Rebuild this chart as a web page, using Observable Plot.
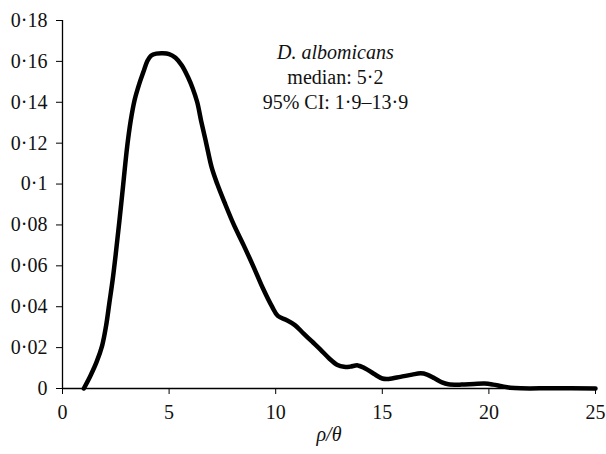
<!DOCTYPE html>
<html>
<head>
<meta charset="utf-8">
<script src="https://cdn.jsdelivr.net/npm/d3@7"></script>
<script src="https://cdn.jsdelivr.net/npm/@observablehq/plot@0.6"></script>
<style>
  html, body { margin: 0; padding: 0; background: #fff; }
  svg { display: block; }
</style>
</head>
<body>
<div id="chart"></div>
<script>
// Posterior density of rho/theta
const rhoTheta = [1.0, 1.3, 1.6, 1.86, 2.05, 2.2, 2.35, 2.5, 2.67, 2.85, 3.03, 3.2, 3.38, 3.6, 3.8, 3.97, 4.15, 4.4, 4.7, 5.0, 5.3, 5.6, 5.9, 6.1, 6.32, 6.5, 6.74, 7.0, 7.26, 7.6, 8.04, 8.5, 8.94, 9.4, 9.83, 10.1, 10.5, 10.9, 11.3, 11.7, 12.1, 12.5, 12.9, 13.2, 13.5, 13.85, 14.2, 14.6, 15.0, 15.3, 15.85, 16.4, 16.8, 17.1, 17.45, 17.8, 18.1, 18.7, 19.3, 19.8, 20.2, 20.6, 21.0, 21.5, 23.0, 25.0];
const density  = [0, 0.006, 0.013, 0.021, 0.031, 0.042, 0.053, 0.066, 0.082, 0.1, 0.118, 0.131, 0.141, 0.149, 0.155, 0.16, 0.1628, 0.1638, 0.164, 0.1636, 0.1618, 0.158, 0.152, 0.147, 0.14, 0.131, 0.12, 0.108, 0.1, 0.091, 0.08, 0.07, 0.06, 0.049, 0.04, 0.0355, 0.0335, 0.031, 0.027, 0.023, 0.019, 0.0148, 0.0115, 0.0106, 0.0107, 0.0113, 0.0098, 0.0072, 0.0049, 0.0047, 0.0057, 0.0068, 0.0074, 0.0068, 0.005, 0.003, 0.0021, 0.0019, 0.0022, 0.0024, 0.0019, 0.0011, 0.0004, 0.0001, 0.0001, 0.0];

const xTicks = [0, 5, 10, 15, 20, 25];
const yTicks = [0, 0.02, 0.04, 0.06, 0.08, 0.1, 0.12, 0.14, 0.16, 0.18];
const yTickLabels = ["0", "0·02", "0·04", "0·06", "0·08", "0·1", "0·12", "0·14", "0·16", "0·18"];

const annotationLines = ["D. albomicans", "median: 5·2", "95% CI: 1·9–13·9"];
const annotationX = 12.8;
const annotationY = 0.161;
const xLabel = "ρ/θ";

const curve = rhoTheta.map((x, i) => ({x, y: density[i]}));
const font = "'Liberation Serif', 'Times New Roman', serif";

const chart = Plot.plot({
  width: 606,
  height: 454,
  marginLeft: 62,
  marginRight: 11,
  marginTop: 20,
  marginBottom: 66,
  style: {fontFamily: font, fontSize: "20px", color: "#111", background: "#fff"},
  x: {domain: [0, 25], ticks: xTicks},
  y: {domain: [0, 0.18], ticks: yTicks},
  marks: [
    Plot.axisX({ticks: xTicks, tickSize: 6, tickPadding: 10, label: null, stroke: "#000", strokeOpacity: 1, fontSize: 20, fontFamily: font}),
    Plot.axisY({ticks: yTicks, tickSize: 6, tickPadding: 9, label: null, stroke: "#000", strokeOpacity: 1, fontSize: 20, fontFamily: font,
      tickFormat: (d) => yTickLabels[yTicks.indexOf(d)]}),
    Plot.ruleX([0], {stroke: "#000", strokeWidth: 1.3}),
    Plot.ruleY([0], {stroke: "#000", strokeWidth: 1.3}),
    Plot.line(curve, {x: "x", y: "y", stroke: "#000", strokeWidth: 4.5, curve: "catmull-rom", strokeLinejoin: "round", strokeLinecap: "round"}),
    ...annotationLines.map((t, i) => Plot.text([t], {
      x: () => annotationX, y: () => annotationY, text: (d) => d,
      dy: i * 25, lineAnchor: "bottom", textAnchor: "middle",
      fontStyle: i === 0 ? "italic" : "normal", fontSize: 20, fontFamily: font, fill: "#111"
    })),
    Plot.text([xLabel], {frameAnchor: "bottom", text: (d) => d, dy: 52, lineAnchor: "bottom", fontStyle: "italic", fontSize: 20, fontFamily: font, fill: "#111"})
  ]
});
document.getElementById("chart").appendChild(chart);
</script>
</body>
</html>
